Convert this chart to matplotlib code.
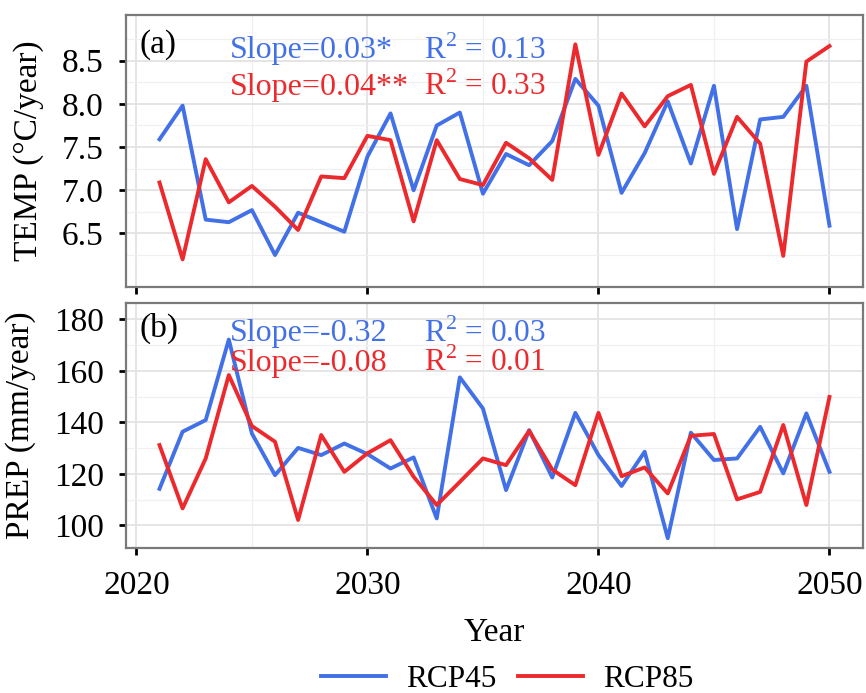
import matplotlib
matplotlib.use('Agg')
import matplotlib.pyplot as plt
import numpy as np

plt.rcParams['font.family'] = ['Liberation Serif', 'DejaVu Serif']
plt.rcParams['mathtext.fontset'] = 'custom'
plt.rcParams['mathtext.rm'] = 'Liberation Serif'

years = np.arange(2021, 2051)

temp_rcp45 = [7.59, 7.98, 6.66, 6.63, 6.77, 6.25, 6.74, 6.63, 6.52, 7.39,
              7.89, 7.00, 7.75, 7.90, 6.96, 7.42, 7.29, 7.57, 8.29, 7.98,
              6.97, 7.43, 8.03, 7.31, 8.21, 6.55, 7.82, 7.85, 8.21, 6.59]
temp_rcp85 = [7.09, 6.20, 7.36, 6.86, 7.05, 6.81, 6.54, 7.16, 7.14, 7.63,
              7.58, 6.64, 7.58, 7.13, 7.06, 7.55, 7.37, 7.12, 8.69, 7.41,
              8.12, 7.74, 8.09, 8.22, 7.19, 7.85, 7.54, 6.24, 8.49, 8.67]

prep_rcp45 = [114.2, 136.4, 140.9, 172.2, 135.7, 119.5, 130.1, 127.3, 131.8, 127.7,
              122.1, 126.4, 102.7, 157.5, 145.4, 113.7, 137.0, 118.6, 143.7, 127.3,
              115.3, 128.6, 95.0, 136.0, 125.4, 126.0, 138.3, 120.2, 143.5, 120.8]
prep_rcp85 = [131.2, 106.6, 126.0, 158.4, 138.6, 132.5, 102.1, 135.1, 120.8, 128.0,
              133.1, 118.9, 107.9, 116.9, 126.0, 123.4, 136.7, 121.7, 115.6, 143.7,
              119.1, 122.5, 112.4, 134.8, 135.5, 110.1, 113.0, 139.0, 107.9, 149.9]

# regression summaries shown in each panel: (slope, r2) per scenario
temp_stats = {'RCP45': ('Slope=0.03*', '0.13'), 'RCP85': ('Slope=0.04**', '0.33')}
prep_stats = {'RCP45': ('Slope=-0.32', '0.03'), 'RCP85': ('Slope=-0.08', '0.01')}

c45 = '#4270E6'
c85 = '#EC2A2E'
fs = 24
lw = 2.8

fig = plt.figure(figsize=(8.66, 6.93), dpi=100)
ax1 = fig.add_axes([0.1455, 0.5859, 0.851, 0.3925])
ax2 = fig.add_axes([0.1455, 0.2092, 0.851, 0.3536])


def style_axes(ax, yticks, ylim):
    ax.set_xlim(2019.55, 2051.45)
    ax.set_xticks([2020, 2030, 2040, 2050])
    ax.set_xticks([2025, 2035, 2045], minor=True)
    ax.set_yticks(yticks)
    step = yticks[1] - yticks[0]
    minor = np.arange(yticks[0] - step / 2, yticks[-1] + step, step)
    ax.set_yticks(minor, minor=True)
    ax.set_ylim(*ylim)
    ax.grid(which='major', color='#E3E3E3', linewidth=1.3)
    ax.grid(which='minor', color='#F0F0F0', linewidth=0.9)
    ax.set_axisbelow(True)
    for s in ax.spines.values():
        s.set_color('#7A7A7A')
        s.set_linewidth(1.6)
    ax.tick_params(which='major', length=5, width=2, color='black',
                   labelsize=fs, pad=11)
    ax.tick_params(which='minor', length=0)


ax1.plot(years, temp_rcp45, color=c45, lw=lw, label='RCP45')
ax1.plot(years, temp_rcp85, color=c85, lw=lw, label='RCP85')
style_axes(ax1, [6.5, 7.0, 7.5, 8.0, 8.5], (5.88, 9.03))
ax1.set_yticklabels(['6.5', '7.0', '7.5', '8.0', '8.5'])
ax1.tick_params(axis='x', labelbottom=False)
ax1.set_ylabel('TEMP (°C/year)', fontsize=fs, labelpad=13)

ax2.plot(years, prep_rcp45, color=c45, lw=lw)
ax2.plot(years, prep_rcp85, color=c85, lw=lw)
style_axes(ax2, [100, 120, 140, 160, 180], (91.2, 186.4))
ax2.set_ylabel('PREP (mm/year)', fontsize=fs, labelpad=13)
ax2.set_xlabel('Year', fontsize=fs, labelpad=12)


def annotate(ax, tag, stats, y1, y2):
    ax.text(0.018, y1 + 0.02, tag, transform=ax.transAxes, fontsize=fs,
            va='center', ha='left', color='black')
    for (name, color), y in zip([('RCP45', c45), ('RCP85', c85)], [y1, y2]):
        slope, r2 = stats[name]
        ax.text(0.141, y, slope, transform=ax.transAxes, fontsize=fs - 1,
                va='center', ha='left', color=color)
        ax.text(0.405, y, r'R$^{\mathrm{2}}$ = ' + r2, transform=ax.transAxes,
                fontsize=fs - 1.5, va='center', ha='left', color=color)


annotate(ax1, '(a)', temp_stats, 0.87, 0.735)
annotate(ax2, '(b)', prep_stats, 0.875, 0.755)

handles, labels = ax1.get_legend_handles_labels()
fig.legend(handles, labels, loc='center', ncol=2, frameon=False,
           fontsize=fs - 1.5, bbox_to_anchor=(0.586, 0.02), handlelength=2.08,
           columnspacing=0.7, handletextpad=0.64)

fig.savefig('out.png', dpi=100)
